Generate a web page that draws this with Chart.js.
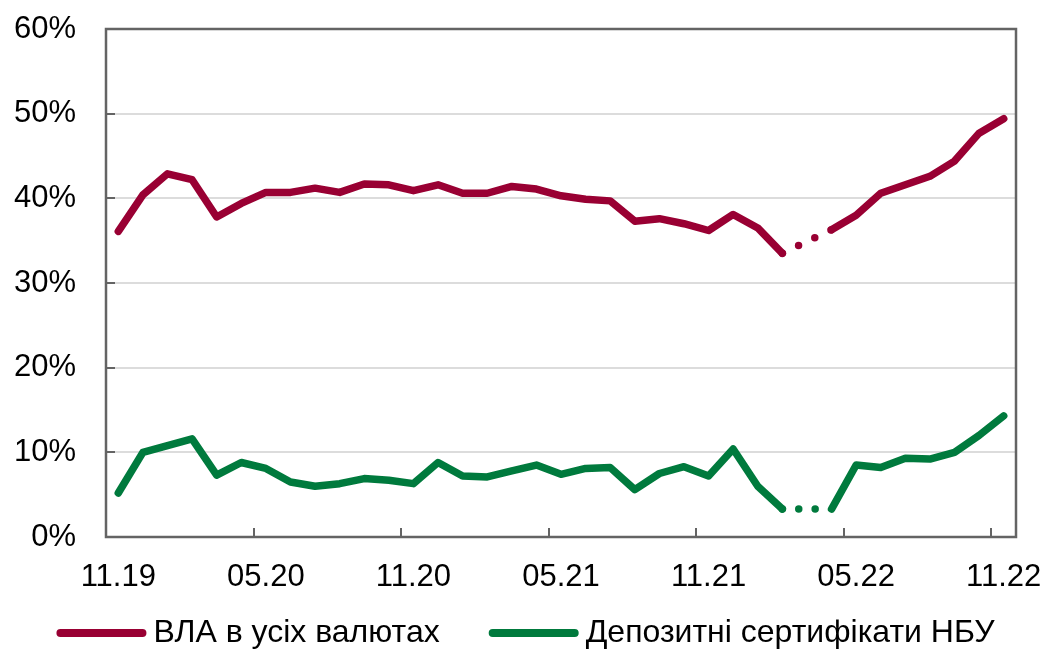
<!DOCTYPE html>
<html>
<head>
<meta charset="utf-8">
<script src="https://cdn.jsdelivr.net/npm/chart.js@4/dist/chart.umd.min.js"></script>
<style>
  html, body { margin: 0; padding: 0; background: #ffffff; }
  #wrap { width: 1051px; height: 651px; }
</style>
</head>
<body>
<div id="wrap"><canvas id="chart" width="1051" height="651"></canvas></div>
<script>
// Monthly observations, 11.19 – 11.22
const months = [
  '11.19','12.19','01.20','02.20','03.20','04.20','05.20','06.20','07.20','08.20','09.20','10.20',
  '11.20','12.20','01.21','02.21','03.21','04.21','05.21','06.21','07.21','08.21','09.21','10.21',
  '11.21','12.21','01.22','02.22','03.22','04.22','05.22','06.22','07.22','08.22','09.22','10.22',
  '11.22'
];

// Axis labels shown on the time axis
const shownMonths = ['11.19','05.20','11.20','05.21','11.21','05.22','11.22'];

// Share, % (03.22 not reported)
const vlaAllCurrencies = [
  36.1, 40.4, 42.9, 42.2, 37.8, 39.4, 40.7, 40.7, 41.2, 40.7, 41.7, 41.6,
  40.9, 41.6, 40.6, 40.6, 41.4, 41.1, 40.3, 39.9, 39.7, 37.3, 37.6, 37.0,
  36.2, 38.1, 36.5, 33.5, null, 36.3, 38.0, 40.6, 41.6, 42.6, 44.4, 47.7,
  49.4
];
const nbuCertificates = [
  5.2, 10.0, 10.8, 11.6, 7.3, 8.8, 8.1, 6.5, 6.0, 6.3, 6.9, 6.7,
  6.3, 8.8, 7.2, 7.1, 7.8, 8.5, 7.4, 8.1, 8.2, 5.6, 7.5, 8.3,
  7.2, 10.4, 6.0, 3.3, null, 3.3, 8.5, 8.2, 9.3, 9.2, 10.0, 12.0,
  14.3
];

const seriesNames = ['ВЛА в усіх валютах', 'Депозитні сертифікати НБУ'];
const yMin = 0, yMax = 60, yStep = 10;

const RED = '#990033';
const GREEN = '#007a3d';
const FRAME = '#646464';
const CLEAR = 'rgba(0,0,0,0)';
const FONT = '"Liberation Sans", Arial, sans-serif';

// Dotted bridge over the unreported month
const gapDots = (spacing) => (ctx) =>
  (ctx.p0.skip || ctx.p1.skip) ? [0, spacing] : undefined;

// Plot frame with short inward tick marks
const framePlugin = {
  id: 'frame',
  beforeDatasetsDraw(chart) {
    const { ctx, chartArea: a, scales } = chart;
    const x = scales.x, y = scales.y;
    ctx.save();
    ctx.strokeStyle = FRAME;
    ctx.lineWidth = 2.5;
    ctx.lineCap = 'butt';
    ctx.strokeRect(a.left, a.top, a.right - a.left, a.bottom - a.top);
    ctx.lineWidth = 2;
    const tl = 9;
    for (let v = yMin + yStep; v < yMax; v += yStep) {
      const py = Math.round(y.getPixelForValue(v));
      ctx.beginPath();
      ctx.moveTo(a.left, py);
      ctx.lineTo(a.left + tl, py);
      ctx.stroke();
    }
    const half = (x.getPixelForValue(1) - x.getPixelForValue(0)) / 2;
    months.forEach((m, i) => {
      if (!shownMonths.includes(m) || i === 0) return;
      const px = Math.round(x.getPixelForValue(i) - half);
      ctx.beginPath();
      ctx.moveTo(px, a.bottom);
      ctx.lineTo(px, a.bottom - tl);
      ctx.stroke();
    });
    ctx.restore();
  }
};

// Legend row under the plot: thick line sample followed by the series name
const LEGEND_SPACE = 44;
const legendPlugin = {
  id: 'lineLegend',
  afterDraw(chart) {
    const ctx = chart.ctx;
    const boxW = 90, boxH = 8, textGap = 7, itemGap = 49;
    const items = chart.data.datasets.map(ds => ({ text: ds.label, color: ds.borderColor }));
    ctx.save();
    ctx.font = '32px ' + FONT;
    const widths = items.map(it => boxW + textGap + ctx.measureText(it.text).width);
    const total = widths.reduce((s, w) => s + w, 0) + itemGap * (items.length - 1);
    let x = (chart.width - total) / 2;
    const y = 633;
    items.forEach((it, i) => {
      ctx.strokeStyle = it.color;
      ctx.lineWidth = boxH;
      ctx.lineCap = 'round';
      ctx.beginPath();
      ctx.moveTo(x + boxH / 2, y);
      ctx.lineTo(x + boxW - boxH / 2, y);
      ctx.stroke();
      ctx.fillStyle = '#000000';
      ctx.textAlign = 'left';
      ctx.textBaseline = 'middle';
      ctx.fillText(it.text, x + boxW + textGap, y);
      x += widths[i] + itemGap;
    });
    ctx.restore();
  }
};

Chart.defaults.font.family = FONT;
Chart.defaults.color = '#000000';

new Chart(document.getElementById('chart'), {
  type: 'line',
  data: {
    labels: months,
    datasets: [
      {
        label: seriesNames[0],
        data: vlaAllCurrencies,
        borderColor: RED,
        backgroundColor: RED,
        borderWidth: 7.5,
        borderCapStyle: 'round',
        borderJoinStyle: 'round',
        pointRadius: 0,
        tension: 0,
        spanGaps: true,
        segment: { borderDash: gapDots(18) }
      },
      {
        label: seriesNames[1],
        data: nbuCertificates,
        borderColor: GREEN,
        backgroundColor: GREEN,
        borderWidth: 7.5,
        borderCapStyle: 'round',
        borderJoinStyle: 'round',
        pointRadius: 0,
        tension: 0,
        spanGaps: true,
        segment: { borderDash: gapDots(16.4) }
      }
    ]
  },
  options: {
    responsive: false,
    animation: false,
    devicePixelRatio: 1,
    layout: { padding: { top: 29, right: 35, left: 0, bottom: LEGEND_SPACE } },
    plugins: {
      tooltip: { enabled: false },
      legend: { display: false }
    },
    scales: {
      x: {
        type: 'category',
        offset: true,
        grid: {
          offset: true,
          drawOnChartArea: false,
          drawTicks: true,
          tickLength: 22,
          tickColor: CLEAR,
          color: CLEAR
        },
        border: { display: false },
        ticks: {
          autoSkip: false,
          maxRotation: 0,
          minRotation: 0,
          padding: 0,
          font: { size: 31, family: FONT },
          color: '#000000',
          callback: (val, idx) => shownMonths.includes(months[idx]) ? months[idx] : ''
        },
        afterFit: (s) => { s.height = 651 - 537 - LEGEND_SPACE; }
      },
      y: {
        min: yMin,
        max: yMax,
        grid: {
          color: (c) => (c.tick && (c.tick.value === yMin || c.tick.value === yMax)) ? CLEAR : '#dcdcdc',
          lineWidth: 2,
          drawTicks: true,
          tickLength: 30,
          tickColor: CLEAR
        },
        border: { display: false },
        ticks: {
          stepSize: yStep,
          padding: 0,
          font: { size: 31, family: FONT },
          color: '#000000',
          callback: (v) => v + '%'
        },
        afterFit: (s) => { s.width = 106; }
      }
    }
  },
  plugins: [framePlugin, legendPlugin]
});
</script>
</body>
</html>
